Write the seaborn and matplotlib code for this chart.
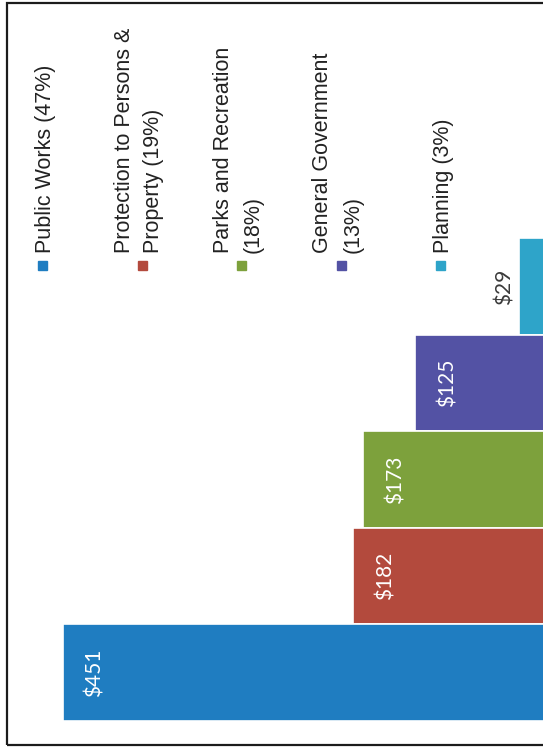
"""Department spending chart (scanned page, rotated a quarter turn)."""

import matplotlib.pyplot as plt
import seaborn as sns
from matplotlib.patches import Rectangle

# --- Data ---------------------------------------------------------------
departments = [
    "Public Works",
    "Protection to Persons & Property",
    "Parks and Recreation",
    "General Government",
    "Planning",
]
legend_labels = [
    "Public Works (47%)",
    "Protection to Persons &\nProperty (19%)",
    "Parks and Recreation\n(18%)",
    "General Government\n(13%)",
    "Planning (3%)",
]
spending = [451, 182, 173, 125, 29]
colors = ["#1F7DC1", "#B34A3D", "#7DA13C", "#5352A4", "#2EA4C9"]

W, H = 543, 754
LEGEND_FONT = ["Liberation Sans Narrow", "Liberation Sans", "DejaVu Sans"]
LABEL_FONT = ["Lato", "DejaVu Sans"]


def px(x, y):
    """Pixel position (from top left) to figure fraction."""
    return x / W, 1 - y / H


def main() -> None:
    sns.set_style("white")
    fig = plt.figure(figsize=(W / 100, H / 100), dpi=100)
    ax = fig.add_axes([0, 0, 1, 1])

    # bars are drawn sideways: the page was scanned rotated 90 degrees
    order = departments[::-1]
    vals = spending[::-1]
    cols = colors[::-1]
    sns.barplot(
        x=vals, y=order, hue=order, palette=cols, orient="h",
        width=1.0, edgecolor="white", linewidth=1.2, legend=False,
        saturation=1, ax=ax,
    )
    k = 487 / 451  # pixels per dollar
    ax.set_xlim(550 / k, 7 / k)
    step = 96.5
    ax.set_ylim((H - 286.5) / step, -286.5 / step)
    ax.set_axis_off()

    # value labels, rotated with the page
    off = 32 / k
    for i, v in enumerate(vals):
        if v < 50:
            xpos, c = v + 14 / k, "#3a3a3a"
        else:
            xpos, c = v - off, "white"
        ax.text(xpos, i, f"${v}", rotation=90, rotation_mode="anchor",
                ha="center", va="center", color=c, fontsize=15,
                family=LABEL_FONT)

    # hand-built legend, one rotated column per department
    for i, (lab, c) in enumerate(zip(legend_labels, colors)):
        base = 51 + i * 99.5
        fig.text(*px(base, 253), lab, rotation=90, rotation_mode="anchor",
                 ha="left", va="baseline", fontsize=15.5, color="#222222",
                 family=LEGEND_FONT, linespacing=1.55)
        mx, my = px(base - 13, 270)
        fig.add_artist(Rectangle((mx, my), 9 / W, 9 / H, color=c,
                                 transform=fig.transFigure))

    # page frame
    fx, fy = px(7, 745)
    fig.add_artist(Rectangle((fx, fy), 1.0, 742 / H, fill=False,
                             edgecolor="#1c1c1c", linewidth=1.6,
                             transform=fig.transFigure))

    fig.savefig("out.png", dpi=100, facecolor="white")


if __name__ == "__main__":
    main()
